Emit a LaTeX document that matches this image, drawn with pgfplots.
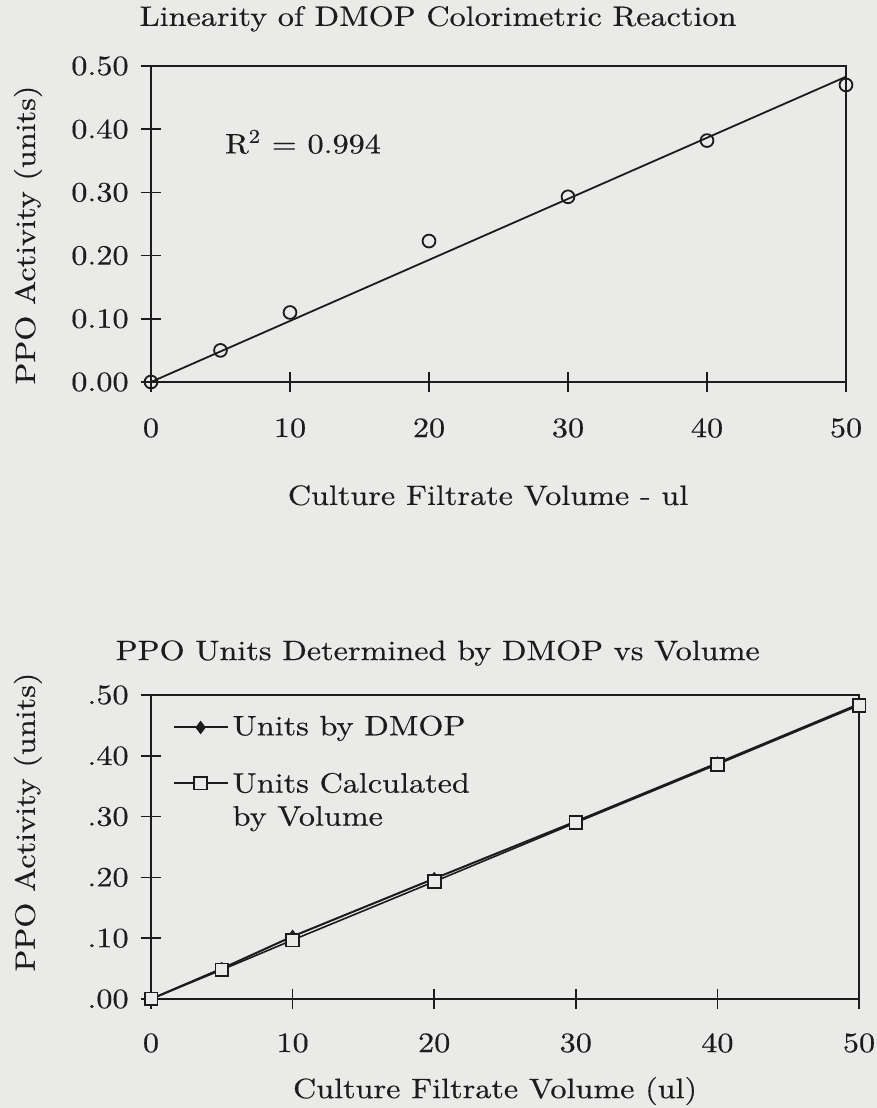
\documentclass[border=0pt]{standalone}
\usepackage{fontspec}
\setmainfont{lmroman10-regular.otf}[FakeStretch=1.15, FakeBold=0.4]
\usepackage{pgfplots}
\pgfplotsset{compat=1.18}
\definecolor{bg}{RGB}{234,234,232}
\definecolor{ink}{RGB}{28,28,28}
\newcommand{\fs}{\fontsize{14}{16.5}\selectfont}
\begin{document}
\fs
\begin{tikzpicture}
\fill[bg] (0pt,0pt) rectangle (438.5pt,554pt);
\pgfplotsset{
  myax/.style={
    scale only axis,
    xmin=0,xmax=50,ymin=0,ymax=0.5,
    xtick={0,10,20,30,40,50},
    ytick={0,0.1,0.2,0.3,0.4,0.5},
    xticklabels={0,10,20,30,40,50},
    /pgf/number format/assume math mode=true,
    tick align=center, major tick length=10pt,
    xtick pos=bottom, ytick pos=left,
    axis line style={ink, line width=1pt},
    every tick/.style={ink, line width=0.8pt},
    tick label style={font=\fs, text=ink},
    label style={font=\fs, text=ink},
    title style={font=\fs, text=ink, yshift=-6pt},
    clip=false,
  }
}
% ---------- top chart ----------
\begin{axis}[myax,
  at={(75.5pt,363pt)}, anchor=south west,
  width=347.5pt, height=158pt,
  yticklabels={0.00,0.10,0.20,0.30,0.40,0.50},
  xticklabel style={anchor=center, yshift=-18pt},
  yticklabel style={anchor=east, inner sep=0pt, xshift=-6pt},
  title={Linearity of DMOP Colorimetric Reaction},
  title style={at={(axis description cs:0.413,1.127)}, anchor=base},
  xlabel={Culture Filtrate Volume - ul},
  xlabel style={at={(axis description cs:0.485,-0.389)}, anchor=base},
  ylabel={PPO Activity (units)},
  ylabel style={at={(axis description cs:-0.177,0.465)}, anchor=center, rotate=0},
]
\addplot[ink, line width=0.9pt] coordinates {(0,0) (50,0.483)};
\addplot[only marks, ink, mark=o, mark size=3.2pt, mark options={line width=0.9pt}]
  coordinates {(0,0) (5,0.05) (10,0.11) (20,0.223) (30,0.293) (40,0.382) (50,0.47)};
\node[anchor=west, inner sep=0pt, font=\fs, text=ink] at (axis cs:5.3,0.38) {R\textsuperscript{2} = 0.994};
\end{axis}
% ---------- bottom chart ----------
\begin{axis}[myax,
  at={(75.5pt,54.5pt)}, anchor=south west,
  width=354pt, height=152pt,
  yticklabels={.00,.10,.20,.30,.40,.50},
  xticklabel style={anchor=center, yshift=-17pt},
  yticklabel style={anchor=east, inner sep=0pt, xshift=-6pt},
  title={PPO Units Determined by DMOP vs Volume},
  title style={at={(axis description cs:0.405,1.115)}, anchor=base},
  xlabel={Culture Filtrate Volume (ul)},
  xlabel style={at={(axis description cs:0.486,-0.326)}, anchor=base},
  ylabel={PPO Activity (units)},
  ylabel style={at={(axis description cs:-0.174,0.582)}, anchor=center, rotate=0},
  legend style={draw=none, fill=none, at={(axis description cs:0.03,0.947)}, anchor=north west,
    font=\fs, row sep=11pt, inner sep=0pt, nodes={inner sep=2pt, text=ink}},
  legend cell align=left,
  legend image code/.code={\draw[mark repeat=2,mark phase=2,#1] plot coordinates {(0pt,0pt) (13.5pt,0pt) (27pt,0pt)};},
]
\addplot[ink, line width=1pt, mark=diamond*, mark size=2.6pt]
  coordinates {(0,0) (5,0.05) (10,0.103) (20,0.198) (30,0.292) (40,0.388) (50,0.485)};
\addlegendentry{Units by DMOP}
\addplot[ink, line width=0.8pt, mark=square*, mark size=3.2pt, mark options={fill=bg, line width=0.9pt}]
  coordinates {(0,0) (5,0.048) (10,0.097) (20,0.193) (30,0.29) (40,0.386) (50,0.483)};
\addlegendentry{\begin{tabular}[t]{@{}l@{}}Units Calculated\\by Volume\end{tabular}}
\end{axis}
\pgfresetboundingbox
\useasboundingbox (0pt,0pt) rectangle (438.5pt,554pt);
\end{tikzpicture}
\end{document}
